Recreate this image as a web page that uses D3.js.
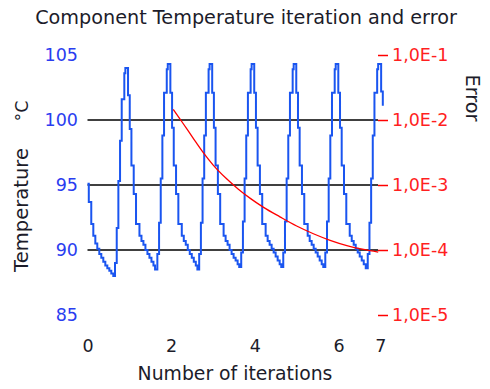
<!DOCTYPE html>
<html>
<head>
<meta charset="utf-8">
<script src="https://cdn.jsdelivr.net/npm/d3@7"></script>
<style>
  html, body { margin: 0; padding: 0; background: #ffffff; }
  svg { display: block; }
  text { font-family: "DejaVu Sans", Verdana, sans-serif; }
</style>
</head>
<body>
<svg id="chart" width="490" height="389"></svg>
<script>
// ---- Text ----
const titleText = "Component Temperature iteration and error";
const xLabel = "Number of iterations";
const tempLabel = "Temperature";
const tempUnit = "°C";
const errorLabel = "Error";

// ---- Axis ticks ----
const xTicks = [0, 2, 4, 6, 7];
const tempTicks = [85, 90, 95, 100, 105];
const tempGrid = [90, 95, 100];
const errorTicks = [1e-1, 1e-2, 1e-3, 1e-4, 1e-5];
const errorTickLabels = ["1,0E-1", "1,0E-2", "1,0E-3", "1,0E-4", "1,0E-5"];

// ---- Component temperature (°C) per iteration progress ----
const tempIter = [
  0.000, 0.031, 0.090, 0.139, 0.187, 0.234, 0.282, 0.330, 0.378, 0.426, 0.474, 0.522, 0.569, 0.617,
  0.658, 0.699, 0.738, 0.778, 0.818, 0.880, 0.905,
  0.969, 1.010, 1.050, 1.105, 1.160, 1.242, 1.290, 1.337, 1.385, 1.433, 1.481, 1.529, 1.577, 1.615,
  1.670, 1.711, 1.751, 1.790, 1.830, 1.895, 1.919,
  1.981, 2.022, 2.062, 2.117, 2.172, 2.254, 2.302, 2.349, 2.397, 2.445, 2.493, 2.541, 2.589, 2.627,
  2.670, 2.711, 2.751, 2.790, 2.830, 2.895, 2.919,
  2.981, 3.022, 3.062, 3.117, 3.172, 3.254, 3.302, 3.349, 3.397, 3.445, 3.493, 3.541, 3.589, 3.627,
  3.675, 3.716, 3.756, 3.795, 3.835, 3.900, 3.924,
  3.986, 4.027, 4.067, 4.122, 4.177, 4.259, 4.307, 4.354, 4.402, 4.450, 4.498, 4.546, 4.594, 4.632,
  4.680, 4.721, 4.761, 4.800, 4.840, 4.905, 4.929,
  4.991, 5.032, 5.072, 5.127, 5.182, 5.264, 5.312, 5.359, 5.407, 5.455, 5.503, 5.551, 5.599, 5.637,
  5.685, 5.726, 5.766, 5.805, 5.845, 5.910, 5.934,
  5.996, 6.037, 6.077, 6.132, 6.187, 6.269, 6.317, 6.364, 6.412, 6.460, 6.508, 6.556, 6.604, 6.652,
  6.700, 6.741, 6.781, 6.820, 6.860, 6.925, 6.949,
  7.020, 7.060
];
const tempValue = [
  95.1, 93.7, 92.0, 91.1, 90.5, 90.1, 89.7, 89.4, 89.1, 88.8, 88.6, 88.4, 88.2, 88.0,
  89.0, 91.7, 95.3, 98.4, 101.6, 103.6, 104.0,
  101.9, 99.3, 96.5, 94.3, 92.0, 91.1, 90.7, 90.4, 90.0, 89.7, 89.4, 89.1, 88.8, 88.5,
  89.7, 92.1, 95.5, 98.8, 102.1, 103.9, 104.3,
  102.1, 99.4, 96.5, 94.3, 92.0, 91.1, 90.7, 90.4, 90.0, 89.7, 89.4, 89.1, 88.8, 88.5,
  89.7, 92.1, 95.5, 98.8, 102.1, 103.9, 104.3,
  102.1, 99.4, 96.5, 94.3, 92.0, 91.1, 90.7, 90.4, 90.0, 89.7, 89.4, 89.2, 88.9, 88.7,
  89.8, 92.2, 95.5, 98.8, 102.1, 103.9, 104.3,
  102.1, 99.4, 96.5, 94.3, 92.0, 91.1, 90.7, 90.4, 90.1, 89.8, 89.5, 89.2, 88.9, 88.7,
  89.8, 92.2, 95.5, 98.8, 102.1, 103.9, 104.3,
  102.1, 99.4, 96.5, 94.3, 92.0, 91.1, 90.7, 90.4, 90.1, 89.8, 89.5, 89.2, 88.9, 88.7,
  89.8, 92.2, 95.5, 98.8, 102.1, 103.9, 104.3,
  102.1, 99.4, 96.5, 94.3, 92.0, 91.1, 90.7, 90.4, 90.1, 89.8, 89.5, 89.2, 88.9, 88.6,
  89.7, 92.1, 95.5, 98.8, 102.1, 103.9, 104.3,
  102.2, 101.1
];

// ---- Convergence error per iteration progress ----
const errIter  = [2.05, 2.2, 2.4, 2.6, 2.8, 3.0, 3.3, 3.6, 3.9, 4.2, 4.6, 5.0, 5.4, 5.8, 6.2, 6.6, 6.95];
const errValue = [1.46e-2, 1.06e-2, 6.92e-3, 4.47e-3, 2.95e-3, 2.04e-3, 1.29e-3, 8.71e-4, 6.17e-4,
                  4.57e-4, 3.24e-4, 2.34e-4, 1.78e-4, 1.41e-4, 1.17e-4, 1.02e-4, 9.3e-5];

// ---- Colours ----
const blueLine = "#1a55f0";
const blueText = "#2a3df0";
const redLine = "#ff0000";
const redText = "#ff1f1f";
const darkText = "#1c1c2a";

const svg = d3.select("#chart");
const fontSize = 17.5;

const x = d3.scaleLinear().domain([0, 7]).range([87.5, 380.3]);
const yT = d3.scaleLinear().domain([85, 105]).range([315, 55]);
const yE = d3.scaleLog().domain([1e-5, 1e-1]).range([315, 55]);

// Horizontal grid lines on the temperature scale
svg.append("g").selectAll("line").data(tempGrid).join("line")
  .attr("x1", x(0)).attr("x2", 378)
  .attr("y1", d => yT(d)).attr("y2", d => yT(d))
  .attr("stroke", "#000").attr("stroke-width", 1.6);

// Left (temperature) axis
const leftAxis = svg.append("g").attr("transform", `translate(${x(0)},0)`)
  .call(d3.axisLeft(yT).tickValues(tempTicks).tickSize(0).tickPadding(9.5));
leftAxis.select(".domain").remove();
leftAxis.selectAll("text").attr("fill", blueText).attr("font-size", fontSize)
  .attr("font-family", "DejaVu Sans, sans-serif");

// Right (error, log) axis
const rightAxis = svg.append("g").attr("transform", "translate(378,0)")
  .call(d3.axisRight(yE).tickValues(errorTicks)
    .tickFormat((d, i) => errorTickLabels[i]).tickSize(10).tickPadding(4));
rightAxis.select(".domain").remove();
rightAxis.selectAll("line").attr("stroke", redLine).attr("stroke-width", 1.5);
rightAxis.selectAll("text").attr("fill", redText).attr("font-size", fontSize)
  .attr("font-family", "DejaVu Sans, sans-serif");

// Bottom (iteration) axis
const bottomAxis = svg.append("g").attr("transform", "translate(0,315)")
  .call(d3.axisBottom(x).tickValues(xTicks).tickFormat(d3.format("d")).tickSize(0).tickPadding(24.5));
bottomAxis.select(".domain").remove();
bottomAxis.selectAll("text").attr("fill", darkText).attr("font-size", fontSize)
  .attr("font-family", "DejaVu Sans, sans-serif");

// Temperature series (stepped)
const tempData = tempIter.map((t, i) => [t, tempValue[i]]);
svg.append("path").datum(tempData)
  .attr("fill", "none").attr("stroke", blueLine).attr("stroke-width", 2)
  .attr("d", d3.line().x(d => x(d[0])).y(d => yT(d[1])).curve(d3.curveStepAfter));

// Error series
const errData = errIter.map((t, i) => [t, errValue[i]]);
svg.append("path").datum(errData)
  .attr("fill", "none").attr("stroke", redLine).attr("stroke-width", 1.3)
  .attr("d", d3.line().x(d => x(d[0])).y(d => yE(d[1])).curve(d3.curveMonotoneX));

// Size a text element so it spans the given width
function fitWidth(sel, width) {
  const w = sel.node().getComputedTextLength();
  sel.attr("font-size", fontSize * width / w);
  return sel;
}

// Titles
fitWidth(svg.append("text").attr("x", 246).attr("y", 24).attr("text-anchor", "middle")
  .attr("fill", darkText).attr("font-size", fontSize).text(titleText), 422);

fitWidth(svg.append("text").attr("x", 235).attr("y", 380).attr("text-anchor", "middle")
  .attr("fill", darkText).attr("font-size", fontSize).text(xLabel), 195);

fitWidth(svg.append("text").attr("transform", "translate(28,210) rotate(-90)")
  .attr("text-anchor", "middle").attr("fill", darkText).attr("font-size", fontSize)
  .text(tempLabel), 124);

svg.append("text").attr("transform", "translate(28,111) rotate(-90)")
  .attr("text-anchor", "middle").attr("fill", darkText).attr("font-size", fontSize)
  .text(tempUnit);

fitWidth(svg.append("text").attr("transform", "translate(466,98) rotate(90)")
  .attr("text-anchor", "middle").attr("fill", darkText).attr("font-size", fontSize)
  .text(errorLabel), 47);
</script>
</body>
</html>
